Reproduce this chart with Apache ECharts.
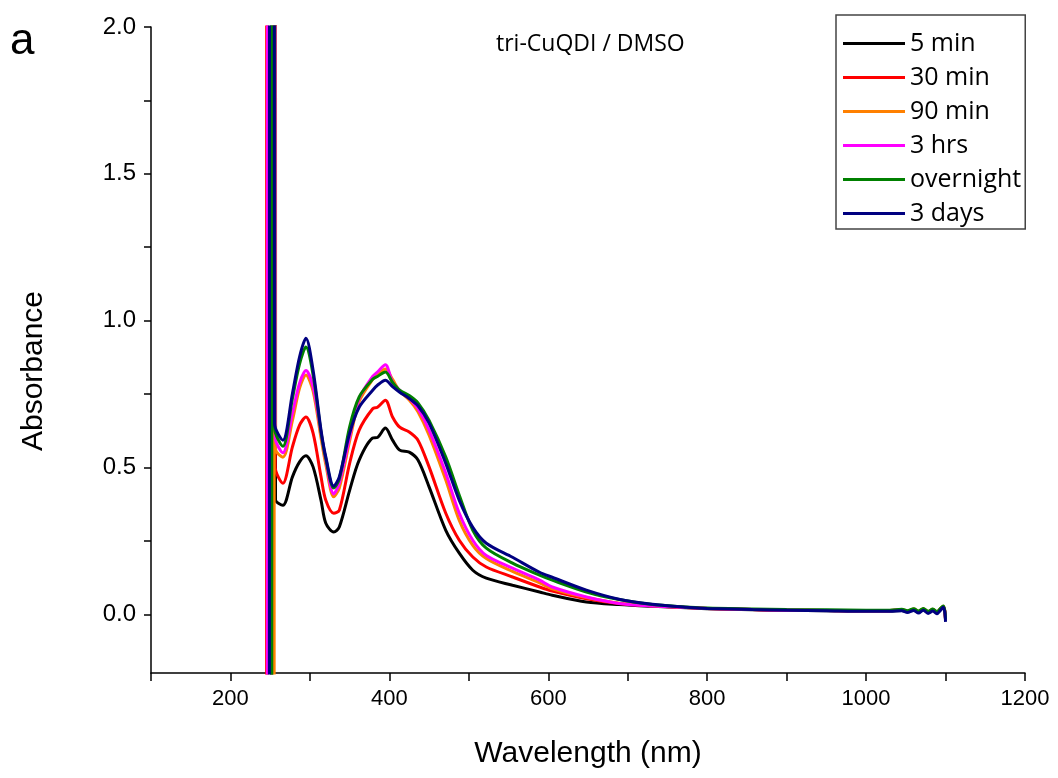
<!DOCTYPE html>
<html>
<head>
<meta charset="utf-8">
<script src="https://cdn.jsdelivr.net/npm/echarts@6/dist/echarts.min.js"></script>
<style>
  html, body { margin: 0; padding: 0; background: #fff; }
  #chart { width: 1058px; height: 778px; }
</style>
</head>
<body>
<div id="chart"></div>
<script>
// ---- data ----
const seriesNames = ['5 min', '30 min', '90 min', '3 hrs', 'overnight', '3 days'];
const seriesColors = ['#000000', '#ff0000', '#ff8000', '#ff00ff', '#008000', '#000080'];

const xTickValues = [100, 200, 300, 400, 500, 600, 700, 800, 900, 1000, 1100, 1200];
const xLabelValues = [200, 400, 600, 800, 1000, 1200];
const yTickValues = [0, 0.25, 0.5, 0.75, 1.0, 1.25, 1.5, 1.75, 2.0];
const yLabelValues = [0, 0.5, 1.0, 1.5, 2.0];

// saturated solvent cut-off region (wavelength, absorbance) for each series
const spike5min      = [[252.0, -1], [252.3, 4], [256.3, 4], [256.7, 0.39]];
const spike30min     = [[245.5, -1], [245.8, 4], [256.0, 4], [256.4, 0.50]];
const spike90min     = [[255.0, -1], [255.3, 4], [256.5, 4], [256.9, 0.56]];
const spike3hrs      = [[246.5, -1], [246.8, 4], [256.0, 4], [256.4, 0.60]];
const spikeOvernight = [[252.0, -1], [252.3, 4], [255.5, 4], [255.9, 0.63]];
const spike3days     = [[249.0, -1], [249.3, 4], [255.0, 4], [255.4, 0.65]];

const wavelengths = [266, 278, 287, 295, 304, 314, 320, 330, 337, 350, 362, 379, 385, 395, 404, 413, 425, 436, 450, 471,
  488, 505, 522, 555, 589, 605, 648, 689, 731, 774, 800, 857, 900, 950, 1000, 1030, 1045, 1052, 1060, 1066,
  1072, 1078, 1084, 1089, 1094, 1097, 1099, 1100];

const abs5min = [0.371, 0.468, 0.519, 0.540, 0.502, 0.388, 0.310, 0.280, 0.297, 0.422, 0.525, 0.600, 0.602, 0.634, 0.593, 0.559, 0.552, 0.525, 0.434, 0.286,
  0.208, 0.150, 0.123, 0.099, 0.076, 0.065, 0.042, 0.033, 0.027, 0.022, 0.019, 0.015, 0.013, 0.012, 0.011, 0.011, 0.013, 0.009, 0.014, 0.007,
  0.015, 0.006, 0.013, 0.005, 0.016, 0.022, 0.010, -0.020];
const abs30min = [0.446, 0.570, 0.644, 0.672, 0.617, 0.468, 0.388, 0.344, 0.354, 0.514, 0.627, 0.700, 0.705, 0.729, 0.672, 0.637, 0.621, 0.593, 0.502, 0.344,
  0.252, 0.195, 0.161, 0.127, 0.093, 0.079, 0.053, 0.037, 0.029, 0.023, 0.020, 0.016, 0.014, 0.013, 0.012, 0.012, 0.015, 0.010, 0.017, 0.009,
  0.018, 0.008, 0.016, 0.007, 0.019, 0.026, 0.012, -0.018];
const abs90min = [0.535, 0.660, 0.770, 0.815, 0.760, 0.600, 0.510, 0.400, 0.430, 0.590, 0.725, 0.800, 0.815, 0.835, 0.800, 0.760, 0.730, 0.690, 0.610, 0.457,
  0.320, 0.235, 0.190, 0.146, 0.107, 0.087, 0.057, 0.038, 0.029, 0.023, 0.020, 0.016, 0.014, 0.013, 0.012, 0.013, 0.016, 0.011, 0.018, 0.010,
  0.019, 0.009, 0.017, 0.008, 0.020, 0.027, 0.013, -0.017];
const abs3hrs = [0.550, 0.685, 0.787, 0.830, 0.774, 0.617, 0.525, 0.410, 0.446, 0.604, 0.735, 0.810, 0.825, 0.850, 0.790, 0.763, 0.735, 0.700, 0.627, 0.480,
  0.344, 0.252, 0.200, 0.157, 0.116, 0.093, 0.059, 0.037, 0.028, 0.023, 0.020, 0.016, 0.014, 0.013, 0.012, 0.012, 0.015, 0.010, 0.016, 0.009,
  0.017, 0.008, 0.015, 0.007, 0.018, 0.025, 0.012, -0.019];
const absOvernight = [0.572, 0.735, 0.853, 0.910, 0.815, 0.620, 0.530, 0.430, 0.460, 0.638, 0.740, 0.800, 0.810, 0.825, 0.790, 0.763, 0.745, 0.720, 0.660, 0.535,
  0.405, 0.286, 0.225, 0.174, 0.133, 0.116, 0.076, 0.050, 0.033, 0.025, 0.021, 0.018, 0.016, 0.015, 0.014, 0.014, 0.017, 0.012, 0.019, 0.011,
  0.020, 0.010, 0.018, 0.009, 0.021, 0.028, 0.014, -0.016];
const abs3days = [0.593, 0.752, 0.877, 0.940, 0.831, 0.627, 0.536, 0.436, 0.468, 0.616, 0.705, 0.763, 0.780, 0.797, 0.775, 0.756, 0.735, 0.710, 0.651, 0.514,
  0.388, 0.296, 0.242, 0.194, 0.143, 0.126, 0.082, 0.051, 0.034, 0.024, 0.020, 0.016, 0.014, 0.012, 0.010, 0.010, 0.012, 0.006, 0.013, 0.004,
  0.014, 0.003, 0.011, 0.002, 0.015, 0.024, 0.008, -0.026];

const spikes = [spike5min, spike30min, spike90min, spike3hrs, spikeOvernight, spike3days];
const absValues = [abs5min, abs30min, abs90min, abs3hrs, absOvernight, abs3days];

// ---- build chart ----
const chart = echarts.init(document.getElementById('chart'), null, { renderer: 'canvas' });

const series = seriesNames.map((name, i) => ({
  name: name,
  type: 'line',
  data: spikes[i].concat(wavelengths.map((w, k) => [w, absValues[i][k]])),
  showSymbol: false,
  smooth: 0.3,
  clip: true,
  color: seriesColors[i],
  lineStyle: { width: 3, color: seriesColors[i] },
  z: 2 + i
}));

const axisFont = '"Liberation Sans", Arial, sans-serif';

chart.setOption({
  animation: false,
  backgroundColor: '#ffffff',
  grid: { left: 151, right: 33, top: 27, bottom: 105, containLabel: false },
  xAxis: {
    type: 'value',
    min: 100, max: 1200, interval: 100,
    name: 'Wavelength (nm)',
    nameLocation: 'middle',
    nameGap: 66,
    nameTextStyle: { fontFamily: axisFont, fontSize: 30, color: '#000' },
    axisLine: { show: true, onZero: false, lineStyle: { color: '#000', width: 1.5 } },
    axisTick: { show: true, inside: false, length: 8, customValues: xTickValues, lineStyle: { color: '#000', width: 1.5 } },
    axisLabel: { show: true, margin: 15, customValues: xLabelValues, fontFamily: axisFont, fontSize: 22, color: '#000',
      formatter: v => String(v) },
    splitLine: { show: false }
  },
  yAxis: {
    type: 'value',
    min: -0.2, max: 2.0,
    name: 'Absorbance',
    nameLocation: 'middle',
    nameGap: 102,
    nameRotate: 90,
    nameTextStyle: { fontFamily: axisFont, fontSize: 30, color: '#000', padding: [0, 42, 0, 0] },
    axisLine: { show: true, onZero: false, lineStyle: { color: '#000', width: 1.5 } },
    axisTick: { show: true, inside: false, length: 7, customValues: yTickValues, lineStyle: { color: '#000', width: 1.5 } },
    axisLabel: { show: true, margin: 15, customValues: yLabelValues, fontFamily: axisFont, fontSize: 24, color: '#000',
      formatter: v => v.toFixed(1) },
    splitLine: { show: false }
  },
  legend: {
    data: seriesNames,
    orient: 'vertical',
    left: 836, top: 15,
    padding: [16, 4, 3, 7],
    itemGap: 9,
    itemWidth: 62,
    itemHeight: 3,
    icon: 'rect',
    backgroundColor: '#ffffff',
    borderColor: '#444444',
    borderWidth: 1.5,
    textStyle: { fontFamily: '"Open Sans", Arial, sans-serif', fontSize: 25, color: '#000', lineHeight: 24 }
  },
  graphic: [
    { type: 'text', left: 10, top: 20, style: { text: 'a', font: '44px "Liberation Sans", Arial, sans-serif', fill: '#000' } },
    { type: 'text', left: 496, top: 33, style: { text: 'tri-CuQDI / DMSO', font: '23px "Open Sans", Arial, sans-serif', fill: '#000' } }
  ],
  series: series
});
</script>
</body>
</html>
